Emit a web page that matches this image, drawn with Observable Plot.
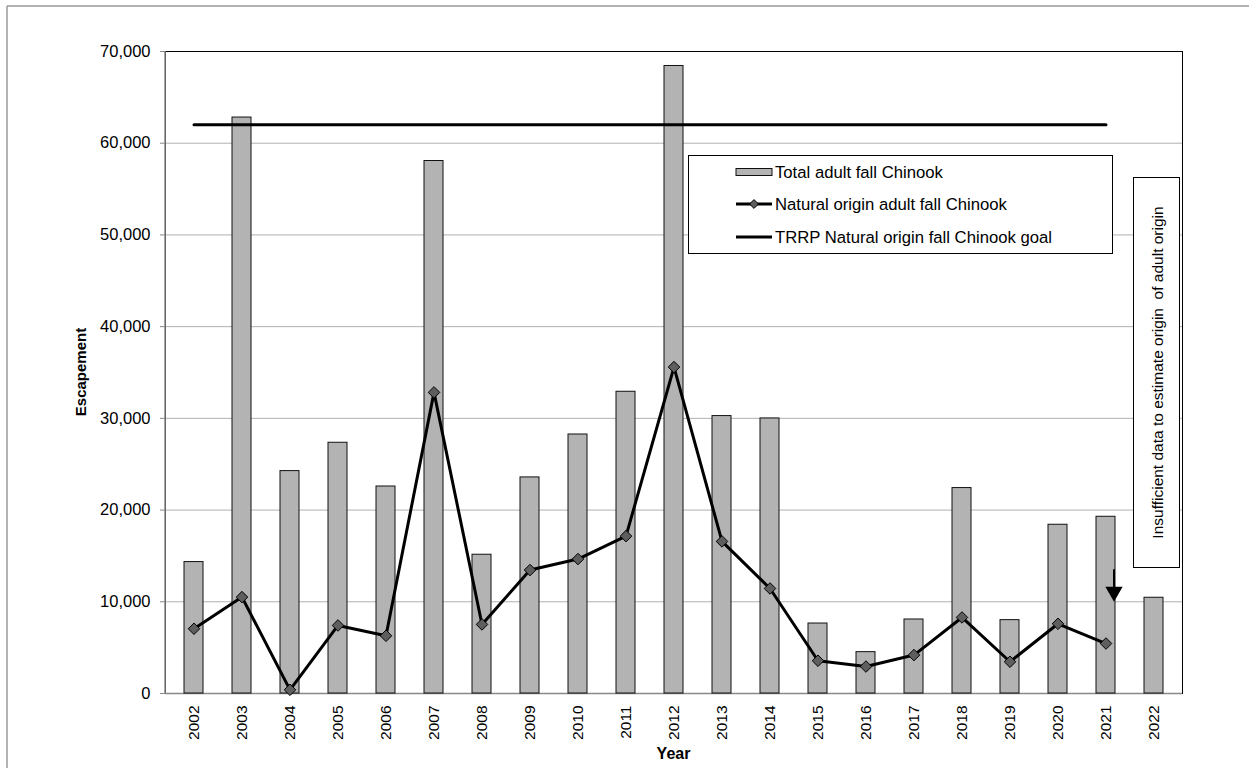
<!DOCTYPE html>
<html>
<head>
<meta charset="utf-8">
<script src="https://cdn.jsdelivr.net/npm/d3@7"></script>
<script src="https://cdn.jsdelivr.net/npm/@observablehq/plot@0.6"></script>
<style>
  html, body { margin: 0; padding: 0; background: #fff; }
  #chart { width: 1249px; height: 768px; }
</style>
</head>
<body>
<div id="chart"></div>
<script>
// ---- data ----
const years = ["2002","2003","2004","2005","2006","2007","2008","2009","2010","2011","2012","2013","2014","2015","2016","2017","2018","2019","2020","2021","2022"];
const totalAdult = [14330, 62800, 24250, 27340, 22570, 58060, 15130, 23560, 28240, 32900, 68420, 30250, 29990, 7630, 4510, 8070, 22400, 8000, 18400, 19270, 10440];
const naturalYears = ["2002","2003","2004","2005","2006","2007","2008","2009","2010","2011","2012","2013","2014","2015","2016","2017","2018","2019","2020","2021"];
const naturalAdult = [7060, 10510, 400, 7420, 6290, 32830, 7530, 13460, 14660, 17160, 35590, 16580, 11450, 3570, 2940, 4190, 8290, 3460, 7600, 5450];
const goalYears = ["2002", "2021"];
const goalValue = 62000;
const yTicks = [0, 10000, 20000, 30000, 40000, 50000, 60000, 70000];
const seriesLabels = ["Total adult fall Chinook", "Natural origin adult fall Chinook", "TRRP Natural origin fall Chinook goal"];
const noteText = "Insufficient data to estimate origin  of adult origin";
const arrowYear = "2021";
const arrowFrom = 13500, arrowTo = 11100;

(function () {
const totalData = years.map((y, i) => ({year: y, value: totalAdult[i]}));
const naturalData = naturalYears.map((y, i) => ({year: y, value: naturalAdult[i]}));
const goalData = goalYears.map(y => ({year: y, value: goalValue}));

const W = 1249, H = 768;
const mL = 165, mR = 67, mT = 51, mB = 75;
const FONT = "'Liberation Sans', Arial, Helvetica, sans-serif";

const plot = Plot.plot({
  width: W,
  height: H,
  marginLeft: mL, marginRight: mR, marginTop: mT, marginBottom: mB,
  style: { fontFamily: FONT, background: "#fff", color: "#000", overflow: "visible" },
  x: { type: "band", domain: years, paddingInner: 0.6, paddingOuter: 0.3, label: null },
  y: { domain: [0, 70000], label: null },
  marks: [
    Plot.gridY(yTicks, { stroke: "#b0b0b0", strokeOpacity: 1, strokeWidth: 1 }),
    Plot.frame({ stroke: "#000", strokeWidth: 1 }),
    Plot.ruleY([0], { stroke: "#888", strokeWidth: 1.5 }),
    Plot.barY(totalData, { x: "year", y: "value", fill: "#b3b3b3", stroke: "#111", strokeWidth: 1 }),
    Plot.line(goalData, { x: "year", y: "value", stroke: "#000", strokeWidth: 3 }),
    Plot.line(naturalData, { x: "year", y: "value", stroke: "#000", strokeWidth: 3 }),
    Plot.dot(naturalData, { x: "year", y: "value", symbol: "diamond2", r: 5.2, fill: "#5e5e5e", stroke: "#000", strokeWidth: 1 }),
    Plot.ruleX([arrowYear], { y1: arrowFrom, y2: arrowTo, dx: 8, stroke: "#000", strokeWidth: 2 }),
    Plot.dot([arrowYear], { x: d => d, y: arrowTo, dx: 8, symbol: "triangle", rotate: 180, r: 6.4, fill: "#000", stroke: "none" }),
    Plot.axisY(yTicks, { tickFormat: d3.format(","), tickSize: 5, tickPadding: 10, fontSize: 16.5, stroke: "#888", label: null }),
    Plot.axisX({ tickSize: 0, tickPadding: 12, tickRotate: -90, fontSize: 15.5, label: null })
  ]
});

document.getElementById("chart").appendChild(plot);

const svg = d3.select(plot);
const pL = mL, pR = W - mR, pT = mT, pB = H - mB;

// left axis line (grey)
svg.append("line").attr("x1", pL).attr("x2", pL).attr("y1", pT).attr("y2", pB)
  .attr("stroke", "#888").attr("stroke-width", 1.5);

// outer border (left & top visible)
svg.append("line").attr("x1", 7).attr("x2", 7).attr("y1", 6).attr("y2", H)
  .attr("stroke", "#999").attr("stroke-width", 1.5);
svg.append("line").attr("x1", 7).attr("x2", W).attr("y1", 6).attr("y2", 6)
  .attr("stroke", "#999").attr("stroke-width", 1.5);

// axis titles
svg.append("text").attr("transform", `translate(${86},${(pT + pB) / 2}) rotate(-90)`)
  .attr("text-anchor", "middle").attr("font-family", FONT).attr("font-size", 15)
  .attr("font-weight", "bold").text("Escapement");
svg.append("text").attr("x", (pL + pR) / 2).attr("y", 759)
  .attr("text-anchor", "middle").attr("font-family", FONT).attr("font-size", 16)
  .attr("font-weight", "bold").text("Year");

// legend
const lg = svg.append("g");
lg.append("rect").attr("x", 688.5).attr("y", 155.5).attr("width", 424).attr("height", 98)
  .attr("fill", "#fff").attr("stroke", "#000").attr("stroke-width", 1);
const ly = [172, 204, 237];
const sx0 = 736, sx1 = 772, tx = 775;
lg.append("rect").attr("x", sx0).attr("y", ly[0] - 3.5).attr("width", sx1 - sx0).attr("height", 7)
  .attr("fill", "#b3b3b3").attr("stroke", "#111").attr("stroke-width", 1);
lg.append("line").attr("x1", sx0).attr("x2", sx1).attr("y1", ly[1]).attr("y2", ly[1])
  .attr("stroke", "#000").attr("stroke-width", 3);
lg.append("path").attr("d", d3.symbol(d3.symbolDiamond2, 50)())
  .attr("transform", `translate(${(sx0 + sx1) / 2},${ly[1]})`)
  .attr("fill", "#5e5e5e").attr("stroke", "#000").attr("stroke-width", 1);
lg.append("line").attr("x1", sx0).attr("x2", sx1).attr("y1", ly[2]).attr("y2", ly[2])
  .attr("stroke", "#000").attr("stroke-width", 3);
seriesLabels.forEach((t, i) => {
  lg.append("text").attr("x", tx).attr("y", ly[i]).attr("dy", "0.35em")
    .attr("text-anchor", "start")
    .attr("font-family", FONT).attr("font-size", 16.7).attr("fill", "#000").text(t);
});

// note box
const ng = svg.append("g");
ng.append("rect").attr("x", 1133.5).attr("y", 177.5).attr("width", 46).attr("height", 390)
  .attr("fill", "#fff").attr("stroke", "#000").attr("stroke-width", 1);
ng.append("text").attr("transform", `translate(${1158},${372.5}) rotate(-90)`)
  .attr("text-anchor", "middle").attr("dy", "0.35em")
  .attr("font-family", FONT).attr("font-size", 15.5).attr("fill", "#000")
  .style("white-space", "pre").text(noteText);
})();
</script>
</body>
</html>
